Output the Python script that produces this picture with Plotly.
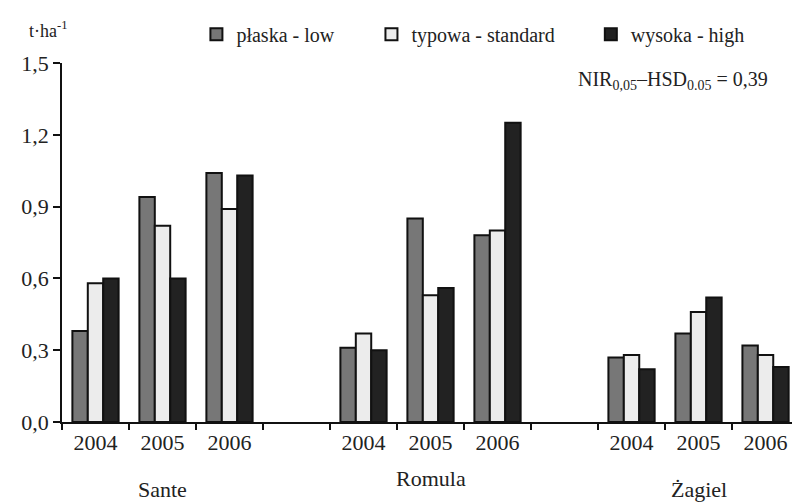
import plotly.graph_objects as go

categories = ["S2004", "S2005", "S2006", "gap1", "R2004", "R2005", "R2006", "gap2", "Z2004", "Z2005", "Z2006"]
tick_labels = ["2004", "2005", "2006", "", "2004", "2005", "2006", "", "2004", "2005", "2006"]
groups = ["Sante", "Romula", "Żagiel"]

low = [0.38, 0.94, 1.04, None, 0.31, 0.85, 0.78, None, 0.27, 0.37, 0.32]
standard = [0.58, 0.82, 0.89, None, 0.37, 0.53, 0.80, None, 0.28, 0.46, 0.28]
high = [0.60, 0.60, 1.03, None, 0.30, 0.56, 1.25, None, 0.22, 0.52, 0.23]

series_names = ["płaska - low", "typowa - standard", "wysoka - high"]
colors = ["#777777", "#ececec", "#222222"]

font = "Liberation Serif, DejaVu Serif, serif"
txt = "#222222"

fig = go.Figure()
legend_ids = ["legend", "legend2", "legend3"]
legend_x = [0.248, 0.469, 0.746]
for name, vals, col, lg in zip(series_names, [low, standard, high], colors, legend_ids):
    fig.add_trace(go.Bar(x=categories, y=vals, name=name, legend=lg,
                         marker=dict(color=col, line=dict(color="#111111", width=2))))

legend_common = dict(orientation="h", yref="container", xref="container", y=0.932,
                     xanchor="left", yanchor="middle",
                     font=dict(size=20, family=font, color=txt),
                     bgcolor="rgba(0,0,0,0)", borderwidth=0)

layout_legends = {lg: dict(x=lx, **legend_common) for lg, lx in zip(legend_ids, legend_x)}

fig.update_layout(
    width=792, height=502,
    margin=dict(l=62, r=0, t=63, b=80, autoexpand=False),
    paper_bgcolor="white", plot_bgcolor="white",
    barmode="group", bargap=0.31, bargroupgap=0,
    font=dict(family=font, color=txt, size=22),
    showlegend=True,
    **layout_legends,
)
fig.update_xaxes(
    type="category", categoryorder="array", categoryarray=categories,
    tickvals=categories, ticktext=tick_labels,
    range=[-0.5, 10.395],
    showline=True, linecolor="#111111", linewidth=1.5,
    ticks="outside", tickson="boundaries", ticklen=6, tickcolor="#111111", tickwidth=1.5,
    showgrid=False, zeroline=False, automargin=False,
    tickfont=dict(size=22, family=font, color=txt),
)
fig.update_yaxes(
    range=[0, 1.5], tickvals=[0, 0.3, 0.6, 0.9, 1.2, 1.5],
    ticktext=["0,0", "0,3", "0,6", "0,9", "1,2", "1,5"],
    showline=True, linecolor="#111111", linewidth=1.5,
    ticks="outside", ticklen=7, tickcolor="#111111", tickwidth=1.5,
    showgrid=False, zeroline=False, automargin=False,
    tickfont=dict(size=22, family=font, color=txt),
)

# group labels
group_pos = [("S2005", groups[0], -0.189), ("R2005", groups[1], -0.156), ("Z2005", groups[2], -0.189)]
for cat, label, yy in group_pos:
    fig.add_annotation(x=cat, y=yy, xref="x", yref="paper", text=label, showarrow=False,
                       font=dict(size=22, family=font, color=txt), yanchor="middle")

fig.add_annotation(x=-0.048, y=1.092, xref="paper", yref="paper", text="t·ha<sup>-1</sup>",
                   showarrow=False, xanchor="left", yanchor="middle",
                   font=dict(size=18, family=font, color=txt))
fig.add_annotation(x=0.970, y=0.950, xref="paper", yref="paper",
                   text="NIR<sub>0,05</sub>–HSD<sub>0.05</sub> = 0,39",
                   showarrow=False, xanchor="right", yanchor="middle",
                   font=dict(size=20, family=font, color=txt))

fig.write_html("out.html")
